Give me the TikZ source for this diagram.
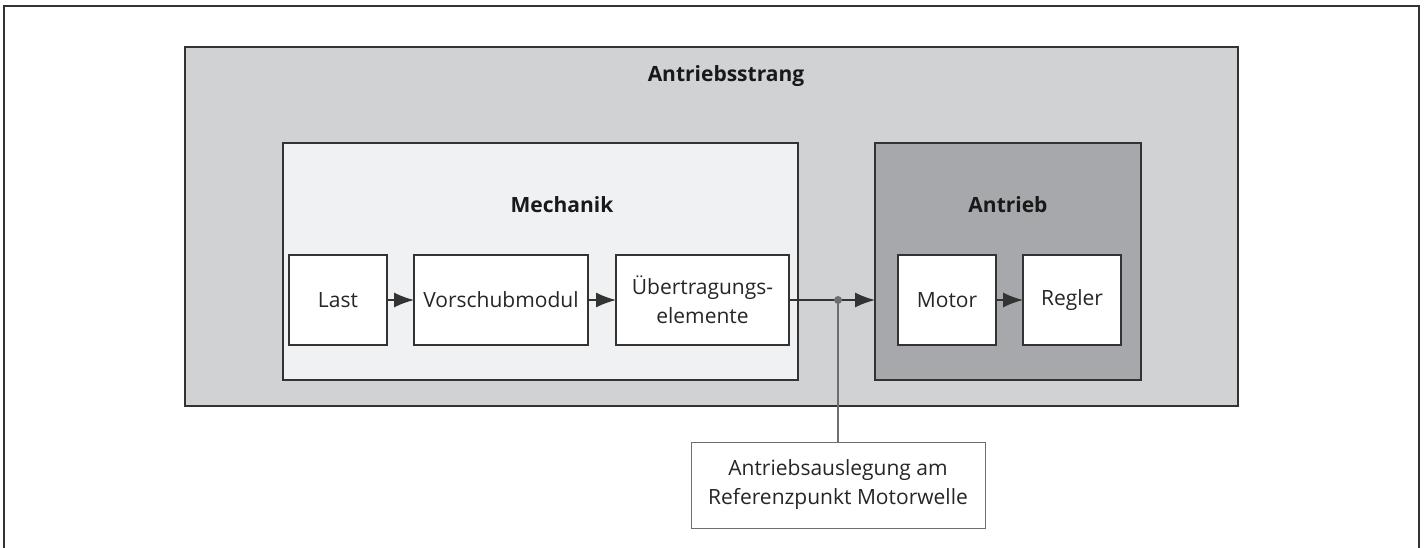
\documentclass[tikz,border=0pt]{standalone}
\usepackage{fontspec}
\setmainfont{Open Sans}
\usetikzlibrary{arrows.meta,positioning}
\definecolor{strangfill}{HTML}{D1D2D4}
\definecolor{mechfill}{HTML}{F0F1F2}
\definecolor{antrfill}{HTML}{A7A8AB}
\definecolor{linecol}{HTML}{333333}
\definecolor{refcol}{HTML}{6E6E6E}

\begin{document}
\begin{tikzpicture}[x=0.5pt, y=-0.5pt, >={Latex[length=10pt,width=7.5pt]}, line width=1pt]
	\tikzstyle{all nodes}=[shape=rectangle]
	\tikzstyle{group}=[draw=linecol, outer sep=0pt, inner sep=0pt]
	\tikzstyle{box}=[draw=linecol, fill=white, outer sep=0pt, align=center,
		minimum height=45pt, font=\fontsize{10.5}{14.5}\selectfont, text=black!85]
	\tikzstyle{title}=[font=\fontsize{10.5}{13}\selectfont\bfseries, text=black!90]
	\useasboundingbox (0,0) rectangle (1424,547);
	% frame
	\draw[linecol] (4,560) -- (4,6) -- (1419,6) -- (1419,560);
	% % Nodes
	% groups
	\node[group, fill=strangfill, minimum width=526.5pt, minimum height=179.5pt]
	(strang) at (711.5,226.5) {};
	\node[group, fill=mechfill, minimum width=257.5pt, minimum height=118.5pt]
	(mechanik) at (540.5,261.5) {};
	\node[group, fill=antrfill, minimum width=133pt, minimum height=118.5pt]
	(antrieb) at (1008,261.5) {};
	\node[title] (strangtitle) at (726,76) {Antriebsstrang};
	\node[title] (mechtitle) at (562,205) {Mechanik};
	\node[title] (antrtitle) at (1008,205) {Antrieb};
	% mechanik
	\node[box, minimum width=49pt] (last) at (338,300) {Last};
	\node[box, right=13.5pt of last, minimum width=87pt] (vorschub) {Vorschubmodul};
	\node[box, right=14pt of vorschub, minimum width=86.5pt] (uebertr)
	{Übertragungs-\\elemente};
	% antrieb
	\node[box, minimum width=49pt] (motor) at (947,300) {Motor};
	\node[box, right=13.5pt of motor, minimum width=49pt] (regler) {Regler};
	% reference point
	\node[box, draw=refcol, line width=0.5pt, minimum width=147pt, minimum height=43pt]
	(ref) at (838,485) {Antriebsauslegung am\\Referenzpunkt Motorwelle};
	\coordinate (point) at (ref.north |- uebertr.east);
	% % Connectors
	\draw[->, linecol, line width=0.7pt] (last) -- (vorschub);
	\draw[->, linecol, line width=0.7pt] (vorschub) -- (uebertr);
	\draw[->, linecol, line width=0.7pt] (motor) -- (regler);
	\draw[->, linecol, line width=0.7pt] (uebertr) -- (antrieb.west |- uebertr.east);
	\draw[refcol, line width=0.7pt] (point) -- (ref);
	\fill[refcol] (point) circle (2pt);
\end{tikzpicture}
\end{document}
